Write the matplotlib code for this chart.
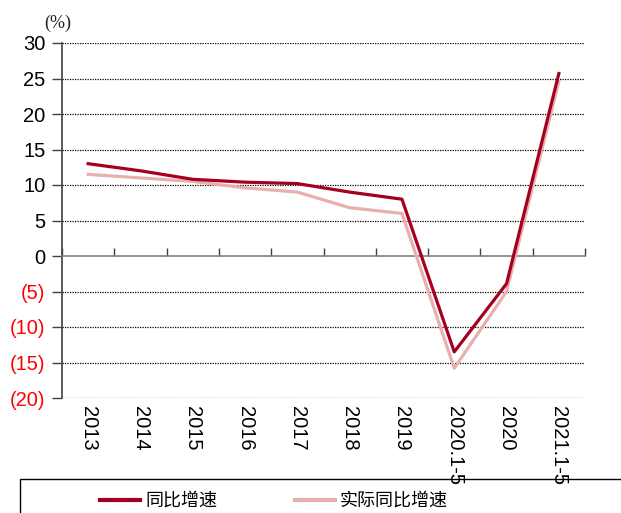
import matplotlib.pyplot as plt
import numpy as np
from matplotlib.patches import Rectangle
from matplotlib.ticker import FuncFormatter

# 数据
years = ['2013', '2014', '2015', '2016', '2017', '2018', '2019', '2020.1-5', '2020', '2021.1-5']
yoy = [13.0, 12.0, 10.8, 10.4, 10.2, 9.0, 8.0, -13.5, -3.9, 25.7]
real_yoy = [11.5, 11.0, 10.5, 9.6, 9.0, 6.8, 6.0, -15.8, -5.0, 24.6]
yticks = [30, 25, 20, 15, 10, 5, 0, -5, -10, -15, -20]

red = '#A50021'
pink = '#E8AFAF'

plt.rcParams['font.family'] = ['Liberation Sans', 'Noto Sans CJK SC', 'DejaVu Sans']

fig = plt.figure(figsize=(6.21, 5.13), dpi=100)
ax = fig.add_axes([62/621, 1-398/513, 523/621, 355/513])

x = np.arange(len(years))
ax.plot(x, yoy, color=red, lw=2.3, label='同比增速', zorder=4)
ax.plot(x, real_yoy, color=pink, lw=2.3, label='实际同比增速', zorder=3)

ax.set_ylim(-20, 30)
ax.set_xlim(-0.5, len(years) - 0.5)
ax.set_yticks(yticks)

def fmt(v, pos):
    if v < 0:
        return '(%d)' % abs(v)
    return '%d' % v
ax.yaxis.set_major_formatter(FuncFormatter(fmt))
ax.tick_params(axis='y', labelsize=14.5, length=7, width=1, color='#404040', pad=5)
for lab, v in zip(ax.get_yticklabels(), yticks):
    if v < 0:
        lab.set_color('red')

# 网格
for v in yticks:
    if v != 0:
        ax.axhline(v, color='black', lw=0.9, ls=(0, (1, 1)), zorder=1)

# 零轴与刻度
for s in ['top', 'right']:
    ax.spines[s].set_visible(False)
ax.spines['left'].set_color('#404040')
ax.spines['left'].set_linewidth(1.2)
ax.spines['bottom'].set_position(('data', 0))
ax.spines['bottom'].set_color('#808080')
ax.spines['bottom'].set_linewidth(1.2)
ax.set_xticks(np.arange(len(years) + 1) - 0.5)
ax.tick_params(axis='x', direction='in', length=6, width=1, color='#404040', labelbottom=False)

sec = ax.secondary_xaxis(0.0)
sec.set_xticks(x)
sec.set_xticklabels(years, rotation=-90, fontsize=14.5)
sec.tick_params(length=0, pad=6)
sec.spines['bottom'].set_visible(False)

fig.text(44/621, 1-23/513, '(%)', fontsize=13, family=['Liberation Serif'],
         va='center', ha='left', color='#222222')

# 图例
fig.add_artist(Rectangle((20/621, -0.1), 1.0, (513-479)/513 + 0.1, transform=fig.transFigure,
                         fill=False, edgecolor='black', lw=1))
fig.legend(loc='center left', bbox_to_anchor=(100/621, 1-501/513), ncol=2, frameon=False,
           prop={'family': ['Noto Sans CJK SC'], 'size': 13}, handlelength=2.2,
           handletextpad=0.3, columnspacing=4.3, borderpad=0, borderaxespad=0)
for line in fig.legends[0].get_lines():
    line.set_linewidth(3)

plt.savefig('out.png', dpi=100)
